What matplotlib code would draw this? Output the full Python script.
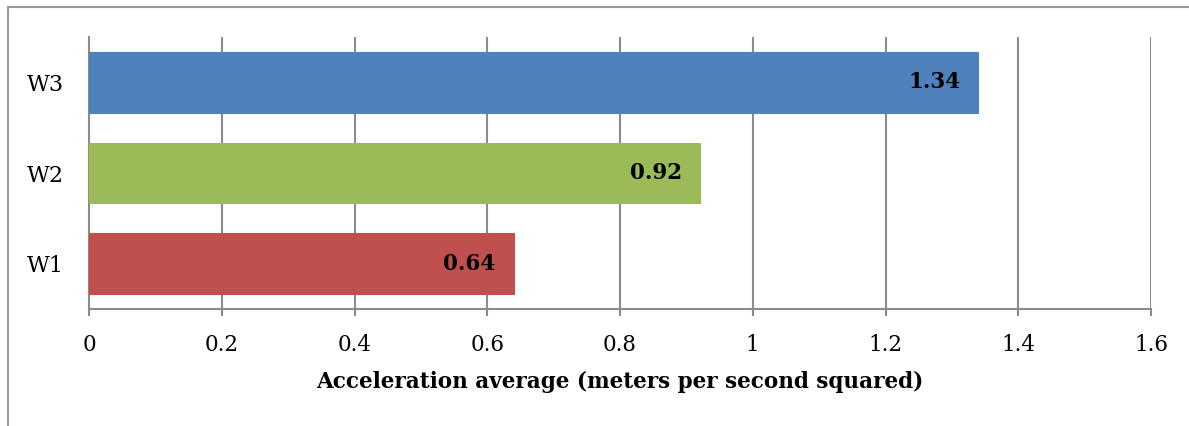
import matplotlib

matplotlib.use("Agg")

import matplotlib.pyplot as plt
from matplotlib.patches import Rectangle

# Données : accélération moyenne par essai
categories = ["W1", "W2", "W3"]
averages = [0.64, 0.92, 1.34]
bar_colors = ["#C0504D", "#9BBB59", "#4F81BD"]
x_ticks = [0, 0.2, 0.4, 0.6, 0.8, 1, 1.2, 1.4, 1.6]
x_tick_labels = ["0", "0.2", "0.4", "0.6", "0.8", "1", "1.2", "1.4", "1.6"]

GRID_COLOR = "#8C8C8C"
FONT = "DejaVu Serif"

plt.rcParams["font.family"] = FONT

fig = plt.figure(figsize=(11.89, 4.26), dpi=100)
ax = fig.add_axes([89 / 1189, 1 - 309 / 426, (1151 - 89) / 1189, (309 - 37) / 426])

# Cadre extérieur du graphique (bords haut et gauche seulement visibles)
fig.patches.append(
    Rectangle((8 / 1189, -0.1), 1.2, 1 - 7 / 426 + 0.1, transform=fig.transFigure,
              fill=False, edgecolor="#9A9A9A", linewidth=1.5)
)

positions = range(len(categories))
ax.barh(positions, averages, height=0.67, color=bar_colors,
        edgecolor=bar_colors, linewidth=0.8, zorder=3)

# Valeur en gras à l'intérieur de l'extrémité de chaque barre
for y, value in zip(positions, averages):
    ax.annotate(f"{value:.2f}", xy=(value, y), xytext=(-18, 0),
                textcoords="offset pixels",
                ha="right", va="center", fontsize=15.5, fontweight="bold",
                color="black", zorder=4)

ax.set_xlim(0, 1.6)
ax.set_ylim(-0.5, len(categories) - 0.5)
ax.set_xticks(x_ticks)
ax.set_xticklabels(x_tick_labels, fontsize=15.5)
ax.set_yticks(list(positions))
ax.set_yticklabels(categories, fontsize=16)

ax.grid(axis="x", color=GRID_COLOR, linewidth=1.5, zorder=0)
for side in ("top", "right"):
    ax.spines[side].set_visible(False)
for side in ("left", "bottom"):
    ax.spines[side].set_color(GRID_COLOR)
    ax.spines[side].set_linewidth(1.5)

ax.tick_params(axis="x", length=5, width=1.5, color=GRID_COLOR, pad=13)
ax.tick_params(axis="y", length=0, pad=18)

ax.set_xlabel("Acceleration average (meters per second squared)",
              fontsize=15.5, fontweight="bold", labelpad=11)

fig.savefig("out.png", dpi=100)
plt.close(fig)
